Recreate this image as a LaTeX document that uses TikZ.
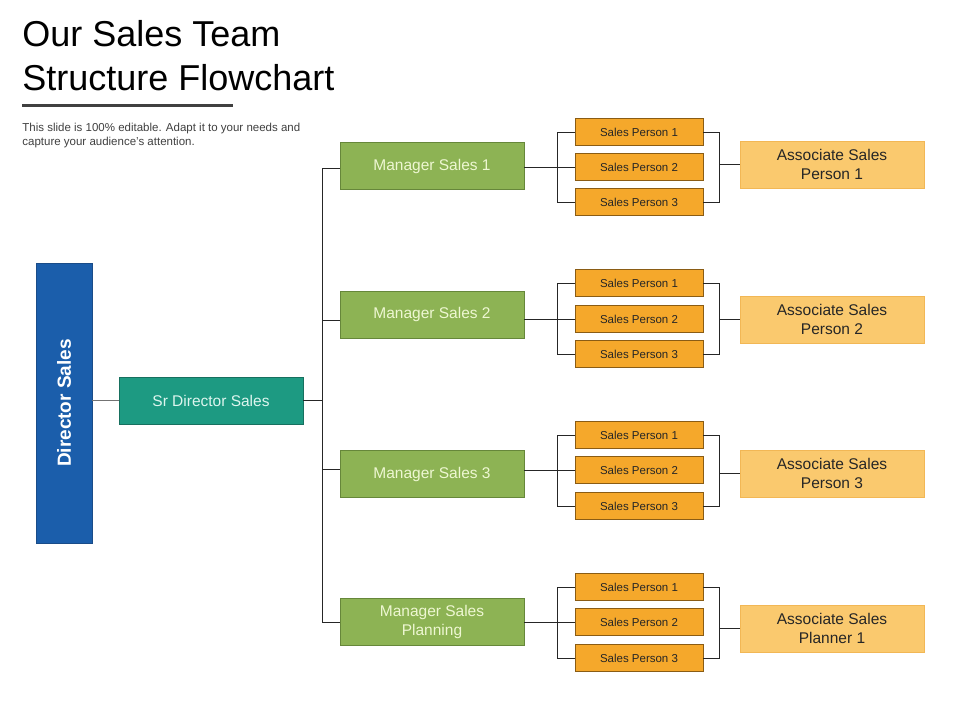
\documentclass[tikz,border=0pt]{standalone}
\usepackage{fontspec}
\setmainfont{Liberation Sans}
\begin{document}
\begin{tikzpicture}[x=1pt,y=-1pt,
  line width=0.8pt,
  conn/.style={draw=black!85, line width=0.9pt},
  dirbox/.style={draw=dirborder, fill=dirblue, minimum width=56pt, minimum height=280pt, inner sep=0pt},
  srbox/.style={draw=srborder, fill=srteal, text=srtext, minimum width=184pt, minimum height=47pt, inner sep=0pt, font=\fontsize{15.5}{18}\selectfont},
  mgrbox/.style={draw=mgrborder, fill=mgrgreen, text=mgrtext, minimum width=184pt, minimum height=47pt, inner sep=0pt, align=center, font=\fontsize{15.5}{19}\selectfont},
  spbox/.style={draw=spborder, fill=sporange, text=black!85, minimum width=128pt, minimum height=27pt, inner sep=0pt, font=\fontsize{11.5}{13}\selectfont},
  asbox/.style={draw=asborder, fill=aslight, text=black!85, minimum width=184pt, minimum height=47pt, inner sep=0pt, align=center, font=\fontsize{15.5}{19}\selectfont}
]
\definecolor{dirblue}{HTML}{1B5EAB}
\definecolor{dirborder}{HTML}{1A4C88}
\definecolor{srteal}{HTML}{1D9A82}
\definecolor{srborder}{HTML}{17705F}
\definecolor{srtext}{HTML}{DDF5EE}
\definecolor{mgrgreen}{HTML}{8DB354}
\definecolor{mgrborder}{HTML}{66873A}
\definecolor{mgrtext}{HTML}{EEF7D2}
\definecolor{sporange}{HTML}{F5A82B}
\definecolor{spborder}{HTML}{8A5C14}
\definecolor{aslight}{HTML}{FAC96E}
\definecolor{asborder}{HTML}{F2B755}
\definecolor{subgray}{HTML}{404040}

\useasboundingbox[fill=white] (0,0) rectangle (960,720);

% Title
\node[anchor=north west, inner sep=0pt, align=left, font=\fontsize{36}{44}\selectfont] (title) at (22,20) {Our Sales Team\\Structure Flowchart};
\coordinate (ul1) at (22,105);
\coordinate (ul2) at (233,105);
\draw[draw=subgray, line width=3pt] (ul1) -- (ul2);
\node[anchor=north west, inner sep=0pt, align=left, text=subgray, font=\fontsize{11.5}{14}\selectfont] (sub) at (22,123) {This slide is 100\% editable. Adapt it to your needs and\\capture your audience's attention.};

% Director
\node[dirbox] (dir) at (64,403) {};
\node[rotate=90, text=white, font=\bfseries\fontsize{19}{22}\selectfont] (dirlbl) at (dir.center) {Director Sales};
\node[srbox] (sr) at (211,400.5) {Sr Director Sales};
\draw[draw=black!55, line width=0.9pt] (dir.east |- sr.west) -- (sr.west);

% Managers
\node[mgrbox] (m1) at (432,166) {Manager Sales 1};
\node[mgrbox] (m2) at (432,314.5) {Manager Sales 2};
\node[mgrbox] (m3) at (432,474) {Manager Sales 3};
\node[mgrbox] (m4) at (432,621.5) {Manager Sales\\Planning};

% trunk
\coordinate (t1) at (322,168);
\coordinate (t2) at (322,320);
\coordinate (t3) at (322,469);
\coordinate (t4) at (322,622);
\coordinate (tsr) at (322,400.5);
\draw[conn] (t1) -- (t4);
\draw[conn] (sr.east) -- (tsr);
\draw[conn] (t1) -- (t1 -| m1.west);
\draw[conn] (t2) -- (t2 -| m2.west);
\draw[conn] (t3) -- (t3 -| m3.west);
\draw[conn] (t4) -- (t4 -| m4.west);

% Sales persons
\foreach \g/\a/\b/\c/\asy/\aslbl in {1/132/167/202/164.5/{Associate Sales\\Person 1},2/283/319/354/319.5/{Associate Sales\\Person 2},3/435/470/506/473.5/{Associate Sales\\Person 3},4/587/622/658/628.5/{Associate Sales\\Planner 1}}{
  \node[spbox] (s\g a) at (639,\a) {Sales Person 1};
  \node[spbox] (s\g b) at (639,\b) {Sales Person 2};
  \node[spbox] (s\g c) at (639,\c) {Sales Person 3};
  \node[asbox] (as\g) at (832,\asy) {\aslbl};
  \coordinate (lb\g a) at (557,\a);
  \coordinate (lb\g c) at (557,\c);
  \coordinate (rb\g a) at (719,\a);
  \coordinate (rb\g c) at (719,\c);
  \draw[conn] (s\g a.west) -- (lb\g a) -- (lb\g c) -- (s\g c.west);
  \draw[conn] (m\g.east |- s\g b.west) -- (s\g b.west);
  \draw[conn] (s\g a.east) -- (rb\g a) -- (rb\g c) -- (s\g c.east);
  \draw[conn] (rb\g a |- as\g.west) -- (as\g.west);
}
\end{tikzpicture}
\end{document}
